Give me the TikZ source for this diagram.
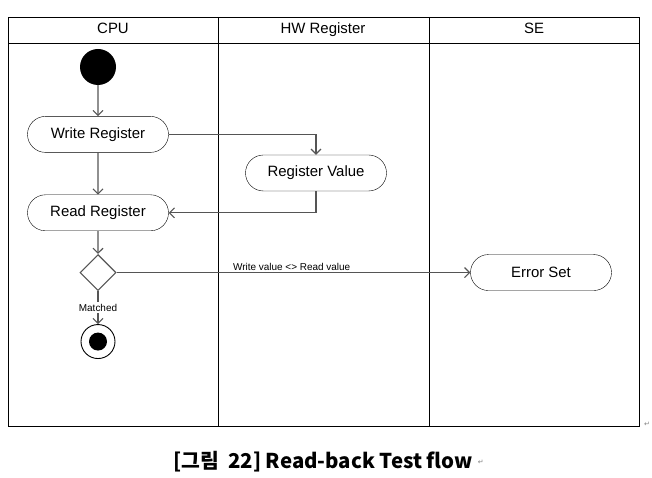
\documentclass[tikz,border=0pt]{standalone}
\usepackage{fontspec}
\setmainfont{Liberation Sans}
\newfontfamily\krfont{Noto Sans CJK KR}
\newfontfamily\symfont{DejaVu Sans}
\usetikzlibrary{arrows.meta,shapes,positioning,calc}
\definecolor{flowgray}{RGB}{85,85,85}
\tikzset{
    lane/.style={draw, line width=0.9bp},
    lanetitle/.style={font=\fontsize{15}{17}\selectfont, text height=11bp, text depth=3bp},
    action/.style={draw, rounded rectangle, minimum width=141bp, minimum height=36bp, inner sep=0pt, font=\fontsize{15}{17}\selectfont},
    flow/.style={-{Straight Barb[length=5bp, width=10bp]}, line width=1.1bp, flowgray},
    guard/.style={font=\fontsize{10}{12}\selectfont, text=black, inner sep=1bp},
    parmark/.style={font=\symfont\fontsize{7}{8}\selectfont, text=gray}
}

\begin{document}
\begin{tikzpicture}[x=1bp, y=-1bp]
    \useasboundingbox (0,0) rectangle (652,478);
    % swimlanes
    \draw[lane] (8,17) rectangle (639,426);
    \draw[lane] (8,43) -- (639,43);
    \draw[lane] (218,17) -- (218,426);
    \draw[lane] (429,17) -- (429,426);
    \node[lanetitle] (cpu) at (113,30) {CPU};
    \node[lanetitle] (hw) at (323,30) {HW Register};
    \node[lanetitle] (se) at (534,30) {SE};

    \node[circle, fill=black, minimum size=36bp, inner sep=0pt] (start) at (98,67) {};
    \node[action, below=31bp of start] (write) {Write Register};
    \node[action, below=42bp of write] (read) {Read Register};
    \node[action] (regval) at (316,173) {Register Value};
    \node[draw, flowgray, diamond, line width=1.1bp, minimum width=36bp, minimum height=36bp, inner sep=0pt, below=23bp of read] (check) {};
    \node[draw, circle, line width=0.9bp, minimum size=34bp, inner sep=0pt, below=33bp of check] (done) {};
    \node[circle, fill=black, minimum size=18bp, inner sep=0pt] (donedot) at (done) {};
    \node[action] (err) at (check -| 541,0) {Error Set};

    \draw[flow] (start) -- (write);
    \draw[flow] (write) -- (read);
    \draw[flow] (write.east) -| (regval.north);
    \draw[flow] (regval.south) |- (read.east);
    \draw[flow] (read) -- (check);
    \draw[flow] (check.east) -- node[guard, pos=0.325, anchor=south west] {Write value <> Read value} (err.west);
    \draw[flow] (check.south) -- node[guard, fill=white, inner sep=2bp] {Matched} (done.north);

    \node[font=\krfont\bfseries\fontsize{20.5}{24}\selectfont] (caption) at (323,462) {[그림~~22] Read-back Test flow};
    \node[parmark, right=-2bp of caption] (capmark) {↵};
    \node[parmark] (framemark) at (647,424) {↵};
\end{tikzpicture}
\end{document}
